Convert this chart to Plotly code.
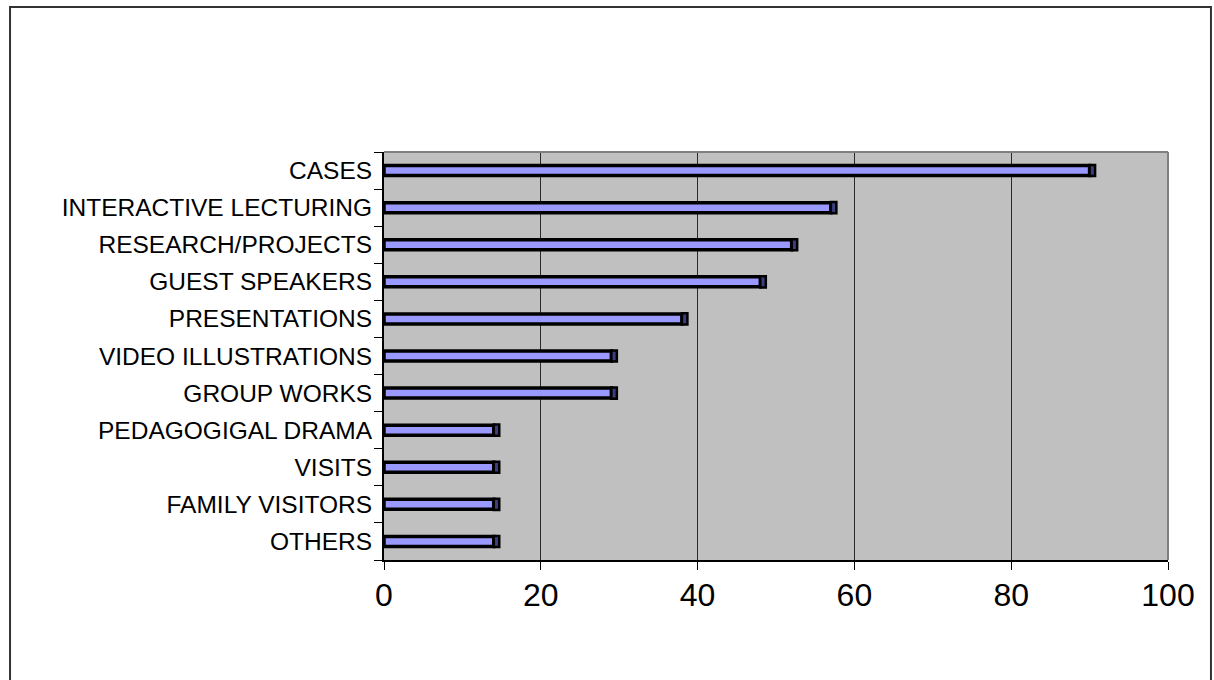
import plotly.graph_objects as go

# Teaching methods and how often each was mentioned
methods = [
    "CASES",
    "INTERACTIVE LECTURING",
    "RESEARCH/PROJECTS",
    "GUEST SPEAKERS",
    "PRESENTATIONS",
    "VIDEO ILLUSTRATIONS",
    "GROUP WORKS",
    "PEDAGOGIGAL DRAMA",
    "VISITS",
    "FAMILY VISITORS",
    "OTHERS",
]
scores = [90, 57, 52, 48, 38, 29, 29, 14, 14, 14, 14]
x_ticks = [0, 20, 40, 60, 80, 100]

FONT = "Liberation Sans, Arial, sans-serif"
CAP_DEPTH = 0.7  # thickness of the darker end face that gives the bars depth
BAR_W = 0.27

fig = go.Figure()

# front face of each bar
fig.add_trace(go.Bar(
    y=methods,
    x=scores,
    orientation="h",
    width=BAR_W,
    marker=dict(color="#9999FF", line=dict(color="#000000", width=3.5)),
    hoverinfo="x+y",
))

# end face drawn just past each bar's value
fig.add_trace(go.Bar(
    y=methods,
    x=[CAP_DEPTH] * len(scores),
    base=scores,
    orientation="h",
    width=BAR_W + 0.03,
    marker=dict(color="#3D3D80", line=dict(color="#000000", width=2.5)),
    hoverinfo="skip",
))

fig.update_layout(
    width=1214,
    height=680,
    margin=dict(l=384, r=46, t=152, b=120, pad=0),
    paper_bgcolor="#FFFFFF",
    plot_bgcolor="#C0C0C0",
    barmode="overlay",
    showlegend=False,
    font=dict(family=FONT, color="#000000"),
    xaxis=dict(
        range=[0, 100],
        tickmode="array",
        tickvals=x_ticks,
        ticktext=[str(v) for v in x_ticks],
        tickfont=dict(size=32, family=FONT, color="#000000"),
        ticks="outside",
        ticklen=8,
        tickwidth=1,
        tickcolor="#000000",
        showgrid=True,
        gridcolor="#2A2A2A",
        gridwidth=1,
        zeroline=False,
        showline=True,
        linecolor="#000000",
        linewidth=2,
        ticklabelstandoff=-2,
    ),
    yaxis=dict(
        categoryorder="array",
        categoryarray=methods[::-1],
        tickfont=dict(size=24.5, family=FONT, color="#000000"),
        ticks="outside",
        tickson="boundaries",
        ticklen=8,
        tickwidth=1,
        tickcolor="#000000",
        showgrid=False,
        zeroline=False,
        showline=True,
        linecolor="#000000",
        linewidth=2,
        ticklabelstandoff=5,
    ),
    shapes=[
        # grey frame on the top and right edges of the plot area
        dict(type="line", xref="paper", yref="paper", x0=0, x1=1, y0=1, y1=1,
             line=dict(color="#808080", width=2), layer="above"),
        dict(type="line", xref="paper", yref="paper", x0=1, x1=1, y0=0, y1=1,
             line=dict(color="#808080", width=2), layer="above"),
        # outer chart border
        dict(type="rect", xref="paper", yref="paper",
             x0=-0.477, x1=1.0548, y0=-0.33, y1=1.3554,
             line=dict(color="#333333", width=2), fillcolor="rgba(0,0,0,0)",
             layer="below"),
    ],
)

fig.write_html("out.html")
